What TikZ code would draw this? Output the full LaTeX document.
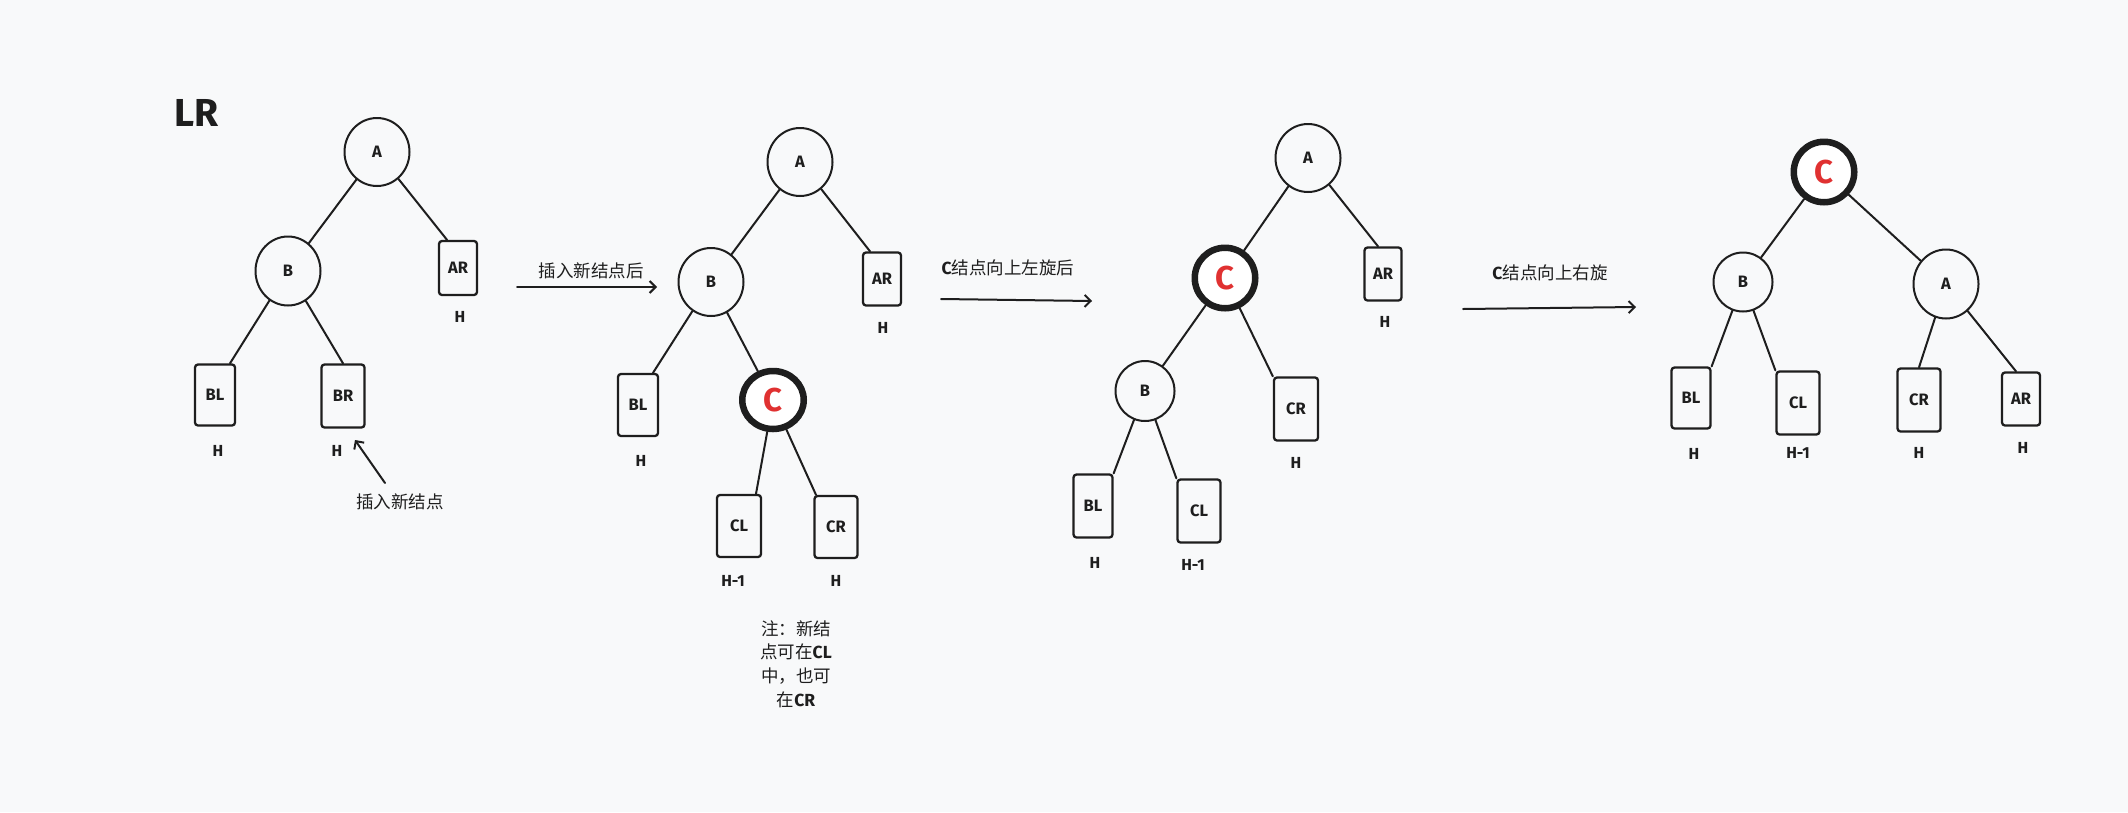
\documentclass[tikz,border=0pt]{standalone}
\usepackage{fontspec}
\setmainfont{Fira Sans}
\newfontfamily\cjkf{Noto Sans CJK SC}
\usetikzlibrary{shapes.geometric,arrows.meta}
\definecolor{ink}{HTML}{1E1E1E}
\definecolor{redc}{HTML}{E03131}
\definecolor{bgc}{HTML}{F8F9FA}
\newcommand\lbfont{\fontsize{16.5}{18}\selectfont\bfseries}
\newcommand\hfont{\fontsize{16}{18}\selectfont\bfseries}
\newcommand\cfont{\fontsize{33}{35}\selectfont\bfseries}
\newcommand\zhfont{\fontsize{17.5}{23.6}\selectfont}
\begin{document}
\begin{tikzpicture}[x=1pt,y=-1pt,
  circ/.style={ellipse, draw=ink, line width=2pt, inner sep=0pt, text=ink, font=\lbfont},
  hot/.style={ellipse, draw=ink, line width=6.5pt, fill=white, inner sep=0pt, text=redc, font=\cfont},
  leaf/.style={rectangle, draw=ink, line width=2.3pt, rounded corners=3pt, inner sep=0pt, text=ink, font=\lbfont},
  sz/.style 2 args={minimum width=#1, minimum height=#2},
  ht/.style={inner sep=0pt, text=ink, font=\hfont},
  zh/.style={inner sep=0pt, text=ink, font=\zhfont\cjkf},
  edge/.style={draw=ink, line width=2pt, line cap=round},
  arr/.style={draw=ink, line width=2pt, line cap=round, -{Straight Barb[length=6pt, width=12pt, line width=2pt]}}
]
\fill[bgc] (0,0) rectangle (2128,812);
\useasboundingbox (0,0) rectangle (2128,812);

% title
\node[inner sep=0pt, text=ink, font=\fontsize{39}{41}\selectfont\bfseries] (title) at (197,113) {LR};

% ---------- tree 1 ----------
\node[circ, sz={65pt}{68pt}] (A1) at (377,152) {A};
\node[circ, sz={65pt}{69pt}] (B1) at (288,271) {B};
\node[leaf, sz={38pt}{54pt}] (AR1) at (458,268) {AR};
\node[leaf, sz={40pt}{61pt}] (BL1) at (215,395) {BL};
\node[leaf, sz={43pt}{63pt}] (BR1) at (343,396) {BR};
\node[ht] (hAR1) at (460,317) {H};
\node[ht] (hBL1) at (218,451) {H};
\node[ht] (hBR1) at (337,451) {H};
\draw[edge] (A1) -- (B1);
\draw[edge] (A1) -- ([xshift=-11pt]AR1.north);
\draw[edge] (B1) -- ([xshift=15pt]BL1.north);
\draw[edge] (B1) -- (BR1.north);
\coordinate (p1s) at (385,483);
\coordinate (p1e) at (355,440);
\draw[arr] (p1s) -- (p1e);
\node[zh] (ins) at (400,502) {插入新结点};

% arrow 1
\coordinate (a1s) at (517,287);
\coordinate (a1e) at (657,287);
\draw[arr] (a1s) -- (a1e);
\node[zh] (l1) at (591,271) {插入新结点后};

% ---------- tree 2 ----------
\node[circ, sz={65pt}{68pt}] (A2) at (800,162) {A};
\node[circ, sz={65pt}{68pt}] (B2) at (711,282) {B};
\node[hot, sz={61.5pt}{58pt}] (C2) at (773,400) {C};
\node[leaf, sz={38pt}{53pt}] (AR2) at (882,279) {AR};
\node[leaf, sz={40pt}{62pt}] (BL2) at (638,405) {BL};
\node[leaf, sz={44pt}{62pt}] (CL2) at (739,526) {CL};
\node[leaf, sz={43pt}{62pt}] (CR2) at (836,527) {CR};
\node[ht] (hAR2) at (883,328) {H};
\node[ht] (hBL2) at (641,461) {H};
\node[ht] (hCL2) at (733,581) {H-1};
\node[ht] (hCR2) at (836,581) {H};
\draw[edge] (A2) -- (B2);
\draw[edge] (A2) -- ([xshift=-12pt]AR2.north);
\draw[edge] (B2) -- ([xshift=15pt]BL2.north);
\draw[edge] (B2) -- (C2);
\draw[edge] (C2) -- ([xshift=17pt]CL2.north);
\draw[edge] (C2) -- ([xshift=-20pt]CR2.north);
\node[inner sep=0pt, text=ink, font=\zhfont, align=center] (note) at (796,664)
  {{\cjkf 注：新结}\\{\cjkf 点可在}\textbf{CL}\\{\cjkf 中，也可}\\{\cjkf 在}\textbf{CR}};

% arrow 2
\coordinate (a2s) at (941,299);
\coordinate (a2e) at (1092,301);
\draw[arr] (a2s) -- (a2e);
\node[inner sep=0pt, text=ink, font=\zhfont] (l2) at (1008,268) {\textbf{C}{\cjkf 结点向上左旋后}};

% ---------- tree 3 ----------
\node[circ, sz={65pt}{68pt}] (A3) at (1308,158) {A};
\node[hot, sz={60.5pt}{60.5pt}] (C3) at (1225,278) {C};
\node[circ, sz={59pt}{60pt}] (B3) at (1145,391) {B};
\node[leaf, sz={37pt}{53pt}] (AR3) at (1383,274) {AR};
\node[leaf, sz={44pt}{63pt}] (CR3) at (1296,409) {CR};
\node[leaf, sz={39pt}{63pt}] (BL3) at (1093,506) {BL};
\node[leaf, sz={43pt}{63pt}] (CL3) at (1199,511) {CL};
\node[ht] (hAR3) at (1385,322) {H};
\node[ht] (hCR3) at (1296,463) {H};
\node[ht] (hBL3) at (1095,563) {H};
\node[ht] (hCL3) at (1193,565) {H-1};
\draw[edge] (A3) -- (C3);
\draw[edge] (A3) -- ([xshift=-5pt]AR3.north);
\draw[edge] (C3) -- (B3);
\draw[edge] (C3) -- (CR3.north west);
\draw[edge] (B3) -- (BL3.north east);
\draw[edge] (B3) -- (CL3.north west);

% arrow 3
\coordinate (a3s) at (1463,309);
\coordinate (a3e) at (1636,307);
\draw[arr] (a3s) -- (a3e);
\node[inner sep=0pt, text=ink, font=\zhfont] (l3) at (1550,273) {\textbf{C}{\cjkf 结点向上右旋}};

% ---------- tree 4 ----------
\node[hot, sz={60.5pt}{60.5pt}] (C4) at (1824,172) {C};
\node[circ, sz={59pt}{59pt}] (B4) at (1743,282) {B};
\node[circ, sz={65pt}{69pt}] (A4) at (1946,284) {A};
\node[leaf, sz={39pt}{61pt}] (BL4) at (1691,398) {BL};
\node[leaf, sz={43pt}{63pt}] (CL4) at (1798,403) {CL};
\node[leaf, sz={43pt}{63pt}] (CR4) at (1919,400) {CR};
\node[leaf, sz={38pt}{53pt}] (AR4) at (2021,399) {AR};
\node[ht] (hBL4) at (1694,454) {H};
\node[ht] (hCL4) at (1798,453) {H-1};
\node[ht] (hCR4) at (1919,453) {H};
\node[ht] (hAR4) at (2023,448) {H};
\draw[edge] (C4) -- (B4);
\draw[edge] (C4) -- (A4);
\draw[edge] (B4) -- (BL4.north east);
\draw[edge] (B4) -- (CL4.north west);
\draw[edge] (A4) -- (CR4.north);
\draw[edge] (A4) -- ([xshift=-5pt]AR4.north);
\end{tikzpicture}
\end{document}
